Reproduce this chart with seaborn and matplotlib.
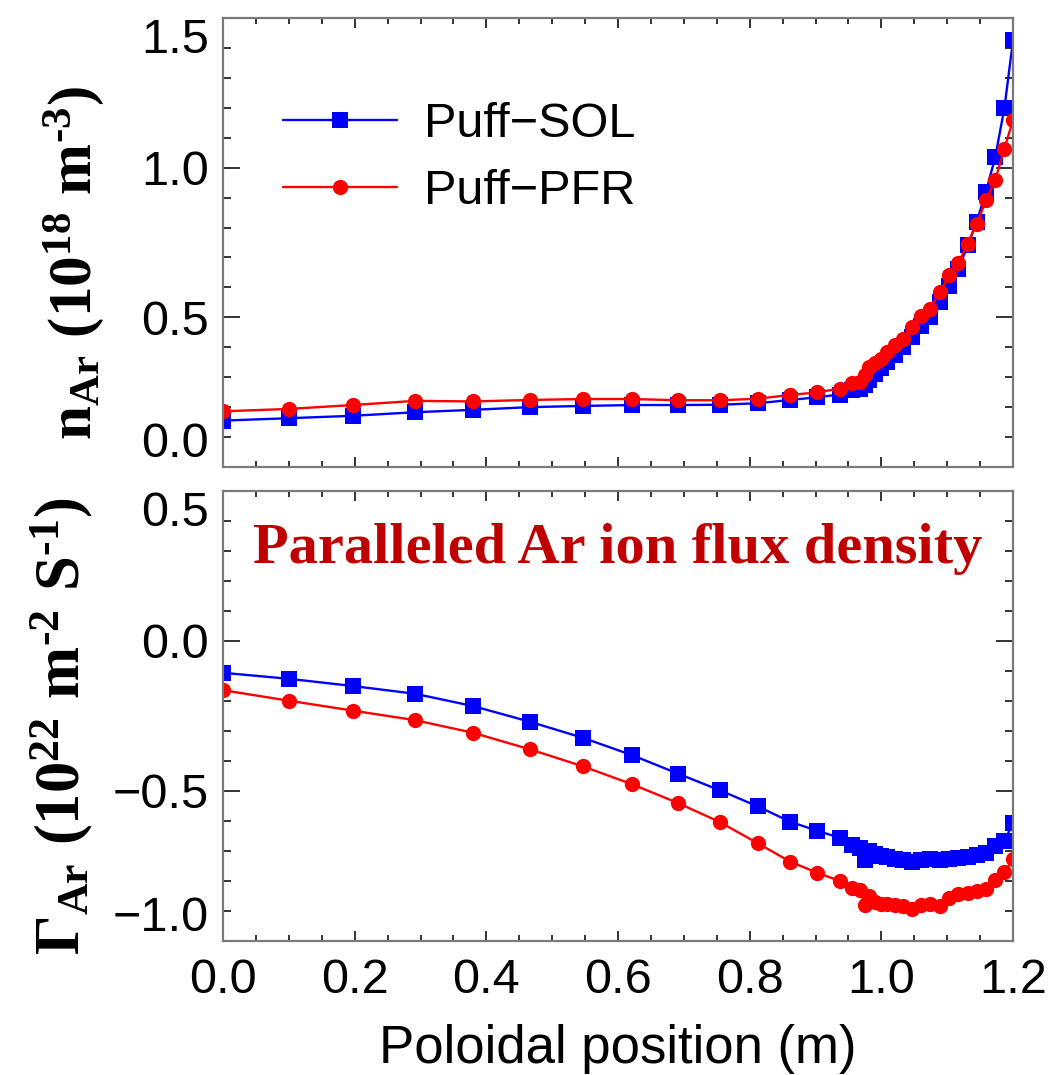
import numpy as np
import pandas as pd
import matplotlib
matplotlib.use("Agg")
import matplotlib.pyplot as plt
import seaborn as sns
from matplotlib.ticker import MultipleLocator

# ---------------- data ----------------
x_pos = [0.0, 0.100, 0.197, 0.292, 0.380, 0.466, 0.547, 0.622, 0.691, 0.755,
         0.812, 0.862, 0.902, 0.937, 0.956, 0.968, 0.975, 0.982, 0.990, 0.999,
         1.008, 1.021, 1.033, 1.047, 1.060, 1.074, 1.089, 1.103, 1.117, 1.131,
         1.145, 1.159, 1.173, 1.187, 1.200]

n_sol = [0.155, 0.163, 0.171, 0.183, 0.191, 0.200, 0.204, 0.207, 0.207, 0.208,
         0.213, 0.224, 0.233, 0.242, 0.258, 0.261, 0.275, 0.290, 0.310, 0.330,
         0.350, 0.375, 0.400, 0.435, 0.470, 0.500, 0.550, 0.605, 0.660, 0.740,
         0.820, 0.920, 1.035, 1.200, 1.425]

n_pfr = [0.186, 0.194, 0.207, 0.221, 0.219, 0.224, 0.227, 0.227, 0.223, 0.223,
         0.228, 0.241, 0.249, 0.262, 0.279, 0.284, 0.307, 0.334, 0.346, 0.362,
         0.384, 0.407, 0.429, 0.468, 0.503, 0.529, 0.584, 0.640, 0.681, 0.746,
         0.812, 0.892, 0.959, 1.064, 1.159]

g_sol = [-0.106, -0.126, -0.150, -0.176, -0.217, -0.269, -0.323, -0.381, -0.442, -0.498,
         -0.551, -0.603, -0.632, -0.656, -0.680, -0.689, -0.730, -0.700, -0.710, -0.717,
         -0.720, -0.727, -0.731, -0.737, -0.731, -0.728, -0.731, -0.726, -0.722, -0.720,
         -0.713, -0.706, -0.684, -0.667, -0.606]

g_pfr = [-0.164, -0.199, -0.232, -0.264, -0.306, -0.361, -0.418, -0.478, -0.540, -0.604,
         -0.674, -0.736, -0.772, -0.800, -0.824, -0.831, -0.880, -0.850, -0.870, -0.876,
         -0.876, -0.880, -0.883, -0.892, -0.880, -0.876, -0.883, -0.858, -0.842, -0.839,
         -0.833, -0.826, -0.798, -0.769, -0.728]

series_names = ["Puff\u2212SOL", "Puff\u2212PFR"]
x_ticks = [0.0, 0.2, 0.4, 0.6, 0.8, 1.0, 1.2]
y_ticks_top = [0.0, 0.5, 1.0, 1.5]
y_ticks_bot = [-1.0, -0.5, 0.0, 0.5]

# ---------------- style ----------------
sns.set_style("white")
plt.rcParams['font.family'] = ['Liberation Sans', 'DejaVu Sans']
plt.rcParams['text.color'] = 'black'
plt.rcParams['axes.labelcolor'] = 'black'
plt.rcParams['mathtext.fontset'] = 'custom'
plt.rcParams['mathtext.rm'] = 'Liberation Serif:bold'
plt.rcParams['mathtext.bf'] = 'Liberation Serif:bold'
plt.rcParams['mathtext.it'] = 'Liberation Serif:bold'

df_n = pd.DataFrame({"x": x_pos * 2, "y": n_sol + n_pfr,
                     "case": [series_names[0]] * len(x_pos) + [series_names[1]] * len(x_pos)})
df_g = pd.DataFrame({"x": x_pos * 2, "y": g_sol + g_pfr,
                     "case": [series_names[0]] * len(x_pos) + [series_names[1]] * len(x_pos)})

palette = {series_names[0]: "#0000FF", series_names[1]: "#FF0000"}
markers = {series_names[0]: "s", series_names[1]: "o"}

fig = plt.figure(figsize=(10.56, 10.75), dpi=100)
W, H = 1056.0, 1075.0
ax1 = fig.add_axes([223 / W, 1 - 467 / H, 790 / W, 449 / H])
ax2 = fig.add_axes([223 / W, 1 - 941 / H, 790 / W, 450 / H])

for ax, df in ((ax1, df_n), (ax2, df_g)):
    sns.lineplot(data=df, x="x", y="y", hue="case", style="case",
                 palette=palette, markers=markers, dashes=False,
                 markersize=11, linewidth=1.7, markeredgewidth=0,
                 sort=False, ax=ax, legend=(ax is ax1))

def style_axis(ax, ylim, yticks):
    ax.set_xlim(0, 1.2)
    ax.set_ylim(*ylim)
    ax.set_xticks(x_ticks)
    ax.set_yticks(yticks)
    ax.xaxis.set_minor_locator(MultipleLocator(0.05))
    ax.yaxis.set_minor_locator(MultipleLocator(0.1))
    ax.tick_params(axis='x', which='major', direction='in', length=7, width=1.3,
                   color='#222222', labelcolor='black', top=True, bottom=True,
                   labelsize=35, pad=12)
    ax.tick_params(axis='x', which='minor', direction='in', length=4, width=1.3,
                   color='#222222', top=True, bottom=True)
    ax.tick_params(axis='y', which='major', direction='in', length=12, width=1.3,
                   color='#222222', labelcolor='black', left=True, right=True,
                   labelsize=35, pad=10)
    ax.tick_params(axis='y', which='minor', direction='in', length=6, width=1.3,
                   color='#222222', left=True, right=True)
    for s in ax.spines.values():
        s.set_color('#7a7a7a')
        s.set_linewidth(1.6)
        s.set_visible(True)
    ax.set_xlabel("")
    ax.set_ylabel("")

style_axis(ax1, (0.0, 1.5), y_ticks_top)
style_axis(ax2, (-1.0, 0.5), y_ticks_bot)
ax1.tick_params(axis='x', labelbottom=False)
ax2.set_xticklabels(["%.1f" % t for t in x_ticks])
ax1.set_yticklabels(["%.1f" % t for t in y_ticks_top])
ax2.set_yticklabels(["%.1f" % t if t >= 0 else "\u2212%.1f" % abs(t) for t in y_ticks_bot])
for ax in (ax1, ax2):
    labs = ax.get_yticklabels()
    labs[0].set_verticalalignment('bottom')
    labs[-1].set_verticalalignment('top')

ax2.set_xlabel("Poloidal position (m)", fontsize=38, labelpad=15)

ax1.set_ylabel(r"$\mathbf{n_{Ar}\ (10^{18}\ m^{\text{-}3})}$", fontsize=44)
ax2.set_ylabel(r"$\mathbf{Γ_{Ar}\ (10^{22}\ m^{\text{-}2}\ S^{\text{-}1})}$", fontsize=45)
ax1.yaxis.set_label_coords(-0.148, 0.455)
ax2.yaxis.set_label_coords(-0.162, 0.478)

leg = ax1.legend(loc='upper left', bbox_to_anchor=(0.02, 0.91), frameon=False,
                 fontsize=35, handlelength=2.35, handletextpad=0.55,
                 labelspacing=0.45, markerscale=1.0)
for t in leg.get_texts():
    t.set_color('black')

ax2.text(0.5, 0.87, "Paralleled Ar ion flux density", transform=ax2.transAxes,
         ha='center', va='center', color='#C00000', fontsize=42,
         fontweight='bold', family='Liberation Serif')

fig.savefig("out.png", dpi=100)
